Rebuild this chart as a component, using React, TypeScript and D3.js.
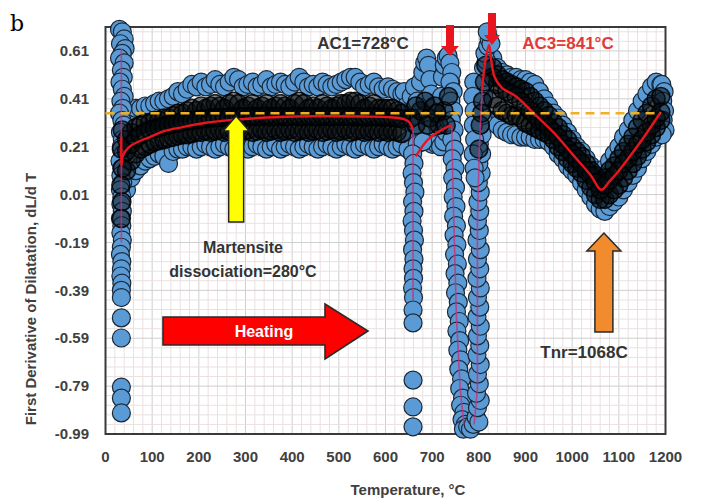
import React from "react";
import * as d3 from "d3";

// ---------- axis ticks ----------
const xTickValues = [0, 100, 200, 300, 400, 500, 600, 700, 800, 900, 1000, 1100, 1200];
const yTickValues = [-0.99, -0.79, -0.59, -0.39, -0.19, 0.01, 0.21, 0.41, 0.61];

// ---------- scatter: plateau band (T 45..635) ----------
const bandTemps = [45, 55, 65, 75, 85, 95, 105, 115, 125, 135, 145, 155, 165, 175, 185, 195, 205, 215, 225, 235, 245, 255, 265, 275, 285, 295, 305, 315, 325, 335, 345, 355, 365, 375, 385, 395, 405, 415, 425, 435, 445, 455, 465, 475, 485, 495, 505, 515, 525, 535, 545, 555, 565, 575, 585, 595, 605, 615, 625, 635];
const bandUpper = [0.34, 0.36, 0.37, 0.37, 0.38, 0.38, 0.39, 0.40, 0.40, 0.41, 0.42, 0.44, 0.43, 0.45, 0.47, 0.46, 0.48, 0.46, 0.47, 0.49, 0.47, 0.46, 0.48, 0.50, 0.49, 0.46, 0.47, 0.48, 0.46, 0.47, 0.49, 0.46, 0.47, 0.48, 0.47, 0.46, 0.48, 0.50, 0.48, 0.46, 0.47, 0.46, 0.48, 0.47, 0.46, 0.47, 0.48, 0.49, 0.50, 0.50, 0.48, 0.46, 0.47, 0.48, 0.46, 0.45, 0.46, 0.45, 0.44, 0.43];
const bandUpperMid = [0.24, 0.27, 0.29, 0.30, 0.31, 0.31, 0.32, 0.32, 0.33, 0.33, 0.34, 0.35, 0.35, 0.36, 0.37, 0.36, 0.38, 0.37, 0.38, 0.39, 0.38, 0.37, 0.39, 0.40, 0.39, 0.37, 0.38, 0.39, 0.37, 0.38, 0.39, 0.37, 0.38, 0.39, 0.38, 0.37, 0.39, 0.40, 0.39, 0.37, 0.38, 0.37, 0.39, 0.38, 0.37, 0.38, 0.39, 0.39, 0.40, 0.40, 0.39, 0.37, 0.38, 0.39, 0.37, 0.37, 0.37, 0.37, 0.36, 0.35];
const bandMid = [0.19, 0.22, 0.245, 0.26, 0.27, 0.28, 0.285, 0.29, 0.295, 0.30, 0.305, 0.31, 0.315, 0.318, 0.32, 0.322, 0.325, 0.327, 0.33, 0.33, 0.332, 0.333, 0.334, 0.335, 0.335, 0.336, 0.334, 0.337, 0.335, 0.336, 0.338, 0.334, 0.336, 0.337, 0.335, 0.336, 0.338, 0.336, 0.335, 0.337, 0.336, 0.334, 0.337, 0.336, 0.335, 0.337, 0.336, 0.338, 0.336, 0.335, 0.336, 0.334, 0.335, 0.336, 0.334, 0.333, 0.333, 0.332, 0.33, 0.327];
const bandLowerMid = [0.11, 0.15, 0.18, 0.20, 0.21, 0.22, 0.23, 0.235, 0.24, 0.245, 0.25, 0.255, 0.26, 0.26, 0.265, 0.27, 0.27, 0.275, 0.27, 0.275, 0.28, 0.27, 0.275, 0.28, 0.27, 0.275, 0.28, 0.27, 0.275, 0.28, 0.27, 0.275, 0.28, 0.27, 0.275, 0.28, 0.27, 0.275, 0.28, 0.27, 0.275, 0.28, 0.27, 0.275, 0.28, 0.27, 0.275, 0.28, 0.27, 0.275, 0.28, 0.27, 0.275, 0.28, 0.27, 0.275, 0.27, 0.275, 0.27, 0.265];
const bandLower = [0.03, 0.08, 0.11, 0.13, 0.15, 0.16, 0.17, 0.18, 0.17, 0.14, 0.19, 0.20, 0.20, 0.21, 0.21, 0.20, 0.21, 0.22, 0.21, 0.20, 0.21, 0.22, 0.21, 0.20, 0.22, 0.21, 0.20, 0.21, 0.22, 0.21, 0.20, 0.21, 0.22, 0.20, 0.21, 0.22, 0.21, 0.20, 0.21, 0.22, 0.21, 0.20, 0.21, 0.22, 0.21, 0.20, 0.21, 0.22, 0.21, 0.20, 0.21, 0.22, 0.21, 0.20, 0.21, 0.22, 0.21, 0.20, 0.21, 0.22];

// ---------- scatter: austenite region band (T 830..1190) ----------
const rightTemps = [830, 840, 850, 860, 870, 880, 890, 900, 910, 920, 930, 940, 950, 960, 970, 980, 990, 1000, 1010, 1020, 1030, 1040, 1050, 1060, 1070, 1080, 1090, 1100, 1110, 1120, 1130, 1140, 1150, 1160, 1170, 1180, 1190];
const rightUpper = [0.58, 0.54, 0.52, 0.51, 0.50, 0.50, 0.49, 0.49, 0.48, 0.47, 0.44, 0.41, 0.38, 0.35, 0.33, 0.30, 0.27, 0.24, 0.21, 0.19, 0.16, 0.13, 0.11, 0.10, 0.12, 0.15, 0.18, 0.21, 0.25, 0.28, 0.32, 0.36, 0.40, 0.43, 0.46, 0.48, 0.47];
const rightUpperMid = [0.54, 0.51, 0.49, 0.48, 0.47, 0.46, 0.45, 0.44, 0.42, 0.40, 0.38, 0.36, 0.34, 0.31, 0.29, 0.26, 0.24, 0.21, 0.19, 0.17, 0.14, 0.11, 0.09, 0.07, 0.08, 0.11, 0.13, 0.16, 0.19, 0.22, 0.25, 0.29, 0.32, 0.35, 0.38, 0.41, 0.42];
const rightMid = [0.50, 0.47, 0.45, 0.44, 0.43, 0.42, 0.40, 0.38, 0.36, 0.34, 0.32, 0.31, 0.29, 0.27, 0.25, 0.22, 0.20, 0.18, 0.16, 0.14, 0.11, 0.09, 0.06, 0.03, 0.05, 0.07, 0.09, 0.11, 0.14, 0.16, 0.19, 0.22, 0.24, 0.27, 0.30, 0.33, 0.355];
const rightLowerMid = [0.41, 0.38, 0.36, 0.35, 0.34, 0.34, 0.33, 0.31, 0.30, 0.29, 0.28, 0.27, 0.26, 0.24, 0.21, 0.19, 0.16, 0.14, 0.12, 0.10, 0.07, 0.04, 0.01, -0.01, -0.01, 0.01, 0.03, 0.05, 0.08, 0.11, 0.14, 0.17, 0.20, 0.23, 0.26, 0.29, 0.32];
const rightLower = [0.32, 0.30, 0.28, 0.27, 0.26, 0.26, 0.25, 0.25, 0.25, 0.24, 0.24, 0.24, 0.23, 0.21, 0.18, 0.16, 0.13, 0.11, 0.09, 0.06, 0.03, 0.0, -0.03, -0.05, -0.06, -0.04, -0.02, 0.0, 0.03, 0.06, 0.09, 0.12, 0.16, 0.19, 0.22, 0.25, 0.28];

// ---------- scatter: individual clusters [T, value] ----------
const startColumn = [[30, 0.70], [36, 0.69], [40, 0.66], [32, 0.64], [42, 0.62], [36, 0.60], [30, 0.58], [40, 0.56], [34, 0.53], [38, 0.50], [31, 0.48], [36, 0.45], [40, 0.42], [33, 0.40], [37, 0.37], [30, 0.35], [35, 0.32], [39, 0.30], [32, 0.27], [36, 0.24], [34, 0.21], [38, 0.18], [31, 0.15], [35, 0.12], [33, 0.09], [37, 0.06], [32, 0.03], [35, 0.0], [33, -0.03], [36, -0.06], [32, -0.09], [35, -0.12], [33, -0.15], [36, -0.18], [34, -0.21], [32, -0.24], [35, -0.27], [34, -0.30], [33, -0.33], [35, -0.36], [34, -0.39], [34, -0.42], [34, -0.505], [34, -0.589], [34, -0.794], [34, -0.84], [34, -0.902]];
const dipCluster = [[640, 0.44], [645, 0.38], [650, 0.31], [652, 0.24], [648, 0.20], [655, 0.42], [660, 0.36], [662, 0.46], [668, 0.40], [672, 0.33], [675, 0.48], [680, 0.52], [684, 0.56], [688, 0.58], [692, 0.55], [695, 0.49], [698, 0.43], [700, 0.37], [704, 0.31], [708, 0.26], [712, 0.30], [716, 0.36], [720, 0.42], [722, 0.50], [726, 0.55], [730, 0.58], [734, 0.59], [738, 0.56], [685, 0.34], [690, 0.28], [695, 0.24], [700, 0.22], [710, 0.22], [718, 0.21], [725, 0.23], [730, 0.27], [735, 0.32], [738, 0.40], [740, 0.48], [676, 0.27], [668, 0.22], [680, 0.23]];
const dipColumn = [[658, 0.18], [661, 0.14], [657, 0.10], [660, 0.06], [663, 0.02], [658, -0.02], [661, -0.06], [657, -0.10], [660, -0.14], [662, -0.18], [658, -0.22], [661, -0.26], [659, -0.30], [660, -0.34], [658, -0.38], [660, -0.42], [659, -0.472], [659, -0.526], [659, -0.765], [659, -0.877], [659, -0.96]];
const fallingSide = [[742, 0.52], [738, 0.48], [745, 0.44], [740, 0.40], [746, 0.36], [741, 0.32], [747, 0.28], [742, 0.24], [748, 0.20], [743, 0.16], [749, 0.12], [744, 0.08], [750, 0.04], [745, 0.0], [751, -0.04], [746, -0.08], [752, -0.12], [747, -0.16], [753, -0.20], [748, -0.24], [754, -0.28], [749, -0.32], [755, -0.36], [750, -0.40], [756, -0.44], [752, -0.48], [758, -0.52], [753, -0.56], [759, -0.60], [755, -0.64], [761, -0.68], [757, -0.72], [763, -0.76], [759, -0.80], [765, -0.84], [761, -0.87], [768, -0.90], [764, -0.93], [771, -0.95], [767, -0.97], [776, -0.96], [782, -0.97]];
const risingSide = [[788, -0.95], [794, -0.92], [800, -0.94], [797, -0.88], [803, -0.85], [795, -0.82], [801, -0.78], [797, -0.74], [803, -0.70], [796, -0.66], [802, -0.62], [797, -0.58], [803, -0.54], [796, -0.50], [802, -0.46], [797, -0.42], [803, -0.38], [796, -0.34], [802, -0.30], [797, -0.26], [803, -0.22], [796, -0.18], [801, -0.14], [797, -0.10], [802, -0.06], [798, -0.02], [803, 0.02], [799, 0.06], [805, 0.10], [800, 0.14], [806, 0.18], [801, 0.22], [807, 0.26], [803, 0.30], [809, 0.34], [805, 0.38], [811, 0.42], [807, 0.46], [813, 0.50], [810, 0.54], [816, 0.57], [813, 0.60], [819, 0.63], [822, 0.66], [826, 0.64], [818, 0.69]];
const riseShoulder = [[789, 0.48], [787, 0.42], [790, 0.36], [788, 0.30], [791, 0.24], [788, 0.18], [790, 0.12], [792, 0.08]];
const endColumn = [[1192, 0.47], [1197, 0.44], [1194, 0.40], [1198, 0.36], [1195, 0.32], [1199, 0.28], [1193, 0.26]];
// dense cores (many overlapping readings)
const startCore = [[34, 0.20], [36, 0.12], [33, 0.05], [35, -0.02], [34, -0.09], [36, 0.28]];
const dipCore = [[655, 0.33], [665, 0.30], [675, 0.36], [685, 0.40], [695, 0.33], [705, 0.38], [715, 0.30], [725, 0.36], [735, 0.42], [665, 0.38], [690, 0.30], [710, 0.35], [730, 0.30]];
const riseCore = [[808, 0.40], [812, 0.48], [803, 0.30], [815, 0.55], [800, 0.20], [806, 0.35]];

// ---------- smoothed (red) curve pieces [T, value] ----------
const redStartDrop = [[34, 0.62], [34, -0.19]];
const redPlateau = [[34, 0.25], [34, 0.13], [37, 0.17], [42, 0.19], [55, 0.215], [75, 0.235], [95, 0.25], [125, 0.275], [165, 0.292], [215, 0.31], [272, 0.322], [373, 0.334], [450, 0.337], [550, 0.336], [610, 0.333], [640, 0.325], [652, 0.31], [659, 0.28]];
const redDipDrop = [[659, 0.28], [659, -0.43]];
const redHook = [[665, 0.17], [675, 0.20], [689, 0.236], [705, 0.262], [720, 0.28], [735, 0.295], [742, 0.30]];
const redFall = [[742, 0.30], [745, 0.0], [752, -0.5], [760, -0.8], [768, -0.95]];
const redRise = [[790, -0.95], [797, -0.80], [797, -0.10], [801, 0.20], [807, 0.45]];
const redAustenite = [[807, 0.45], [815, 0.58], [822, 0.635], [828, 0.55], [834, 0.50], [850, 0.455], [880, 0.42], [920, 0.345], [960, 0.27], [1000, 0.18], [1040, 0.09], [1062, 0.03], [1080, 0.065], [1100, 0.11], [1150, 0.24], [1190, 0.355]];

const referenceLevel = 0.35;
const referenceSpan = [0, 1190];

export default function App() {
  const W = 704, H = 500;
  const left = 105.5, right = 665.5, top = 27, bottom = 434;
  const x = d3.scaleLinear().domain([0, 1200]).range([left, right]);
  const y = d3.scaleLinear().domain([-0.99, 0.71]).range([bottom, top]);

  const zip = (ts: number[], vs: number[]) => ts.map((t, i) => [t, vs[i]]);
  const outerPts = [
    ...zip(bandTemps, bandUpper), ...zip(bandTemps, bandLower),
    ...zip(rightTemps, rightUpper), ...zip(rightTemps, rightLower),
    ...startColumn, ...dipCluster, ...dipColumn, ...fallingSide, ...risingSide, ...riseShoulder, ...endColumn,
  ];
  const innerPts = [
    ...zip(bandTemps, bandUpperMid), ...zip(bandTemps, bandLowerMid), ...zip(bandTemps, bandMid),
    ...zip(rightTemps, rightUpperMid), ...zip(rightTemps, rightLowerMid), ...zip(rightTemps, rightMid),
    ...startCore, ...dipCore, ...riseCore,
  ];

  const minorX = d3.range(0, 1201, 20);
  const minorY = d3.range(0, 43).map((k) => -0.99 + 0.04 * k);

  const lineLin = d3.line<number[]>().x((d) => x(d[0])).y((d) => y(d[1]));
  const lineSmooth = d3.line<number[]>().x((d) => x(d[0])).y((d) => y(d[1])).curve(d3.curveCatmullRom);

  const font = "'Liberation Sans', Arial, sans-serif";
  const textCol = "#404040";

  const upArrow = (cx: number, tipY: number, headY: number, baseY: number, shaftW: number, headW: number) =>
    `M${cx},${tipY} L${cx + headW / 2},${headY} L${cx + shaftW / 2},${headY} L${cx + shaftW / 2},${baseY} L${cx - shaftW / 2},${baseY} L${cx - shaftW / 2},${headY} L${cx - headW / 2},${headY} Z`;
  const downArrow = (cx: number, topY: number, headY: number, tipY: number, shaftW: number, headW: number) =>
    `M${cx - shaftW / 2},${topY} L${cx + shaftW / 2},${topY} L${cx + shaftW / 2},${headY} L${cx + headW / 2},${headY} L${cx},${tipY} L${cx - headW / 2},${headY} L${cx - shaftW / 2},${headY} Z`;
  const heatX0 = 163, heatX1 = 325, heatTip = 368;
  const heatPath = `M${heatX0},317 L${heatX1},317 L${heatX1},304 L${heatTip},331 L${heatX1},359 L${heatX1},345 L${heatX0},345 Z`;

  return (
    <svg width={W} height={H} style={{ position: "absolute", left: 0, top: 0, background: "#fff" }}>
      <g>
        {minorX.map((t) => (
          <line key={"mx" + t} x1={x(t)} x2={x(t)} y1={top} y2={bottom} stroke={t % 100 === 0 ? "#cfcfcf" : "#ebe0e0"} strokeWidth={1} />
        ))}
        {minorY.map((v, i) => (
          <line key={"my" + i} x1={left} x2={right} y1={y(v)} y2={y(v)} stroke={i % 5 === 0 ? "#cfcfcf" : "#ebe0e0"} strokeWidth={1} />
        ))}
      </g>
      <rect x={left} y={top} width={right - left} height={bottom - top} fill="none" stroke="#3a3a3a" strokeWidth={2} />

      <g>
        {outerPts.map((d, i) => (
          <circle key={"o" + i} cx={x(d[0])} cy={y(d[1])} r={9} fill="#5b9bd5" stroke="#1a2838" strokeWidth={1.2} />
        ))}
        {innerPts.map((d, i) => (
          <circle key={"i" + i} cx={x(d[0])} cy={y(d[1])} r={9} fill="#060b10" fillOpacity={0.5} stroke="#000" strokeWidth={1.6} strokeOpacity={0.85} />
        ))}
      </g>

      <g fill="none">
        {[redStartDrop, redDipDrop, redFall, redRise].map((seg, i) => (
          <path key={"rf" + i} d={lineLin(seg as number[][]) || ""} stroke="#c8307a" strokeWidth={1.6} strokeOpacity={0.8} />
        ))}
        {[redPlateau, redHook, redAustenite].map((seg, i) => (
          <path key={"rb" + i} d={lineSmooth(seg as number[][]) || ""} stroke="#e8141e" strokeWidth={2.4} />
        ))}
      </g>

      <line x1={x(referenceSpan[0])} x2={x(referenceSpan[1])} y1={y(referenceLevel)} y2={y(referenceLevel)} stroke="#f0b024" strokeWidth={2.6} strokeDasharray="9 6" />

      <g fontFamily={font} fontWeight="bold" fontSize={15} fill={textCol}>
        {yTickValues.map((v) => (
          <text key={"yt" + v} x={89} y={y(v)} dy="0.35em" textAnchor="end">{v.toFixed(2)}</text>
        ))}
        {xTickValues.map((t) => (
          <text key={"xt" + t} x={x(t)} y={462} textAnchor="middle">{t}</text>
        ))}
        <text x={408} y={495} textAnchor="middle">Temperature, °C</text>
        <text transform={`translate(36,299) rotate(-90)`} textAnchor="middle">First Derivative of Dilatation, dL/d T</text>
      </g>
      <text x={10} y={31} fontFamily="'DejaVu Serif', 'Liberation Serif', serif" fontSize={22}>b</text>

      <g fontFamily={font} fontWeight="bold">
        <text x={363} y={49} textAnchor="middle" fontSize={17} fill="#333">AC1=728°C</text>
        <text x={568} y={49} textAnchor="middle" fontSize={17} fill="#e23a3a">AC3=841°C</text>
        <path d={downArrow(450, 25, 46, 56, 8, 18)} fill="#e8141e" />
        <path d={downArrow(492, 13, 35, 45, 8, 16)} fill="#e8141e" />

        <path d={upArrow(x(280), 116, 131, 222, 15, 26)} fill="#ffff00" stroke="#222" strokeWidth={1.5} />
        <text x={243} y={253} textAnchor="middle" fontSize={16} fill="#333">Martensite</text>
        <text x={243} y={277} textAnchor="middle" fontSize={16} fill="#333">dissociation=280°C</text>

        <path d={heatPath} fill="#ff0000" stroke="#2a2a2a" strokeWidth={1.6} />
        <text x={264} y={337} textAnchor="middle" fontSize={16} fill="#fff">Heating</text>

        <path d={upArrow(x(1068), 233, 251, 332, 18, 34)} fill="#f28a2e" stroke="#2a2a2a" strokeWidth={1.5} />
        <text x={584} y={358} textAnchor="middle" fontSize={17} fill="#333">Tnr=1068C</text>
      </g>
    </svg>
  );
}
